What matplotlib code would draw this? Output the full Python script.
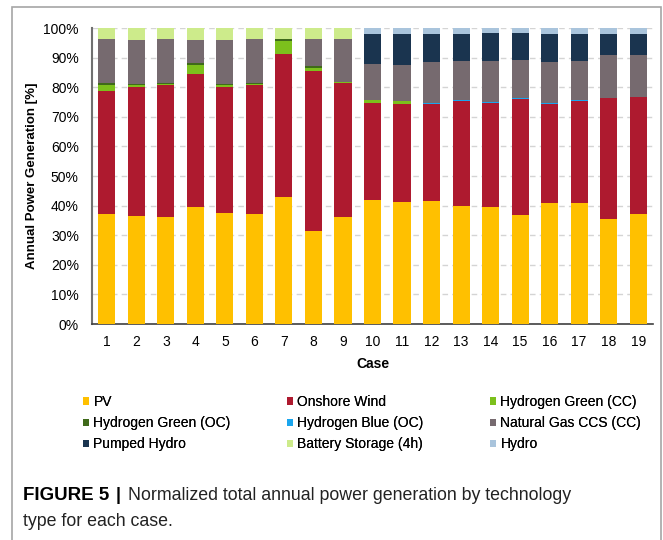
import matplotlib
matplotlib.use("Agg")
import matplotlib.pyplot as plt
from matplotlib.patches import Rectangle
import numpy as np

plt.rcParams['font.family'] = ['Liberation Sans', 'DejaVu Sans']

cases = [str(i) for i in range(1, 20)]
pv = [37.2, 36.6, 36.3, 39.5, 37.5, 37.3, 42.9, 31.3, 36.0, 42.0, 41.3, 41.6, 39.7, 39.6, 36.8, 40.8, 41.0, 35.4, 37.3]
onshore_wind = [41.5, 43.4, 44.4, 44.9, 42.5, 43.4, 48.2, 54.3, 45.4, 32.8, 33.1, 32.8, 35.5, 35.2, 39.1, 33.6, 34.3, 41.1, 39.3]
h2_green_cc = [2.0, 0.6, 0.5, 3.1, 0.7, 0.5, 4.5, 0.9, 0.3, 0.9, 1.0, 0, 0, 0, 0, 0, 0, 0, 0]
h2_green_oc = [0.6, 0.6, 0.2, 0.6, 0.5, 0.2, 0.6, 0.5, 0.2, 0, 0, 0, 0, 0, 0, 0, 0, 0, 0]
h2_blue_oc = [0, 0, 0, 0, 0, 0, 0, 0, 0, 0, 0, 0.1, 0.6, 0.3, 0.6, 0.1, 0.5, 0, 0]
natural_gas_ccs = [14.9, 14.8, 14.9, 7.9, 14.8, 14.9, 0, 9.2, 14.5, 12.3, 12.2, 14.0, 13.2, 13.8, 12.6, 14.0, 13.2, 14.3, 14.4]
pumped_hydro = [0, 0, 0, 0, 0, 0, 0, 0, 0, 10.0, 10.4, 9.5, 9.0, 9.3, 9.1, 9.5, 9.1, 7.2, 7.0]
battery_4h = [3.8, 4.0, 3.7, 4.0, 4.0, 3.7, 3.8, 3.8, 3.6, 0, 0, 0, 0, 0, 0, 0, 0, 0, 0]
hydro = [0, 0, 0, 0, 0, 0, 0, 0, 0, 2.0, 2.0, 2.0, 2.0, 1.8, 1.8, 2.0, 1.9, 2.0, 2.0]

series = [
    ("PV", pv, "#FFC000"),
    ("Onshore Wind", onshore_wind, "#AE1A2F"),
    ("Hydrogen Green (CC)", h2_green_cc, "#7CC01C"),
    ("Hydrogen Green (OC)", h2_green_oc, "#3F6A1A"),
    ("Hydrogen Blue (OC)", h2_blue_oc, "#1AA6EE"),
    ("Natural Gas CCS (CC)", natural_gas_ccs, "#766A6F"),
    ("Pumped Hydro", pumped_hydro, "#1A344F"),
    ("Battery Storage (4h)", battery_4h, "#CDEB8B"),
    ("Hydro", hydro, "#A9C4DC"),
]

W, H = 663, 540
fig = plt.figure(figsize=(W / 100, H / 100), dpi=100)

# outer frame
fig.patches.append(Rectangle((12 / W, -0.05), (661 - 12) / W, 1.05 - 7 / H,
                             transform=fig.transFigure, fill=False,
                             edgecolor="#A6A6A6", linewidth=1.2))

ax = fig.add_axes([92 / W, 1 - 324 / H, (653 - 92) / W, (324 - 28) / H])
x = np.arange(1, len(cases) + 1)
bottom = np.zeros(len(cases))
handles = {}
for name, vals, col in series:
    v = np.array(vals, dtype=float)
    b = ax.bar(x, v, width=0.58, bottom=bottom, color=col, label=name, zorder=3, linewidth=0)
    handles[name] = b
    bottom += v

ax.set_xlim(0.5, 19.5)
ax.set_ylim(0, 100)
ax.set_yticks(np.arange(0, 101, 10))
ax.set_yticklabels([f"{t}%" for t in range(0, 101, 10)], fontsize=10)
ax.set_xticks(x)
ax.set_xticklabels(cases, fontsize=10)
ax.tick_params(axis="y", length=0, pad=9.5, colors="#000000")
ax.tick_params(axis="x", length=0, pad=8, colors="#000000")
ax.yaxis.grid(True, color="#D4D4D4", linestyle=(0, (4, 3)), linewidth=1, zorder=0)
ax.set_axisbelow(True)
for s in ["top", "right"]:
    ax.spines[s].set_visible(False)
ax.spines["left"].set_color("#707070")
ax.spines["left"].set_linewidth(1.5)
ax.spines["bottom"].set_color("#404040")
ax.spines["bottom"].set_linewidth(1.2)
ax.set_ylabel("Annual Power Generation [%]", fontsize=9.5, fontweight="bold", labelpad=4)
ax.set_xlabel("Case", fontsize=10, fontweight="bold", labelpad=5.5)

# legend as three columns
cols = [
    ["PV", "Hydrogen Green (OC)", "Pumped Hydro"],
    ["Onshore Wind", "Hydrogen Blue (OC)", "Battery Storage (4h)"],
    ["Hydrogen Green (CC)", "Natural Gas CCS (CC)", "Hydro"],
]
col_x = [83, 287, 490]
for cx, names in zip(col_x, cols):
    leg = fig.legend([handles[n] for n in names], names, loc="upper left",
                     bbox_to_anchor=(cx / W, 1 - 395 / H), frameon=False,
                     fontsize=10, handlelength=0.45, handleheight=0.45,
                     handletextpad=0.3, labelspacing=0.52, borderaxespad=0,
                     borderpad=0)
    fig.add_artist(leg)

# caption
fig.text(23 / W, 1 - 495 / H, "FIGURE 5", fontsize=13.5, fontweight="bold", va="center", ha="left")
fig.text(116 / W, 1 - 495 / H, "|", fontsize=13, fontweight="bold", va="center", ha="left")
fig.text(128 / W, 1 - 495 / H, "Normalized total annual power generation by technology",
         fontsize=12.8, va="center", ha="left", color="#222222")
fig.text(23 / W, 1 - 521 / H, "type for each case.", fontsize=12.8, va="center", ha="left",
         color="#222222")

fig.savefig("out.png", dpi=100)
